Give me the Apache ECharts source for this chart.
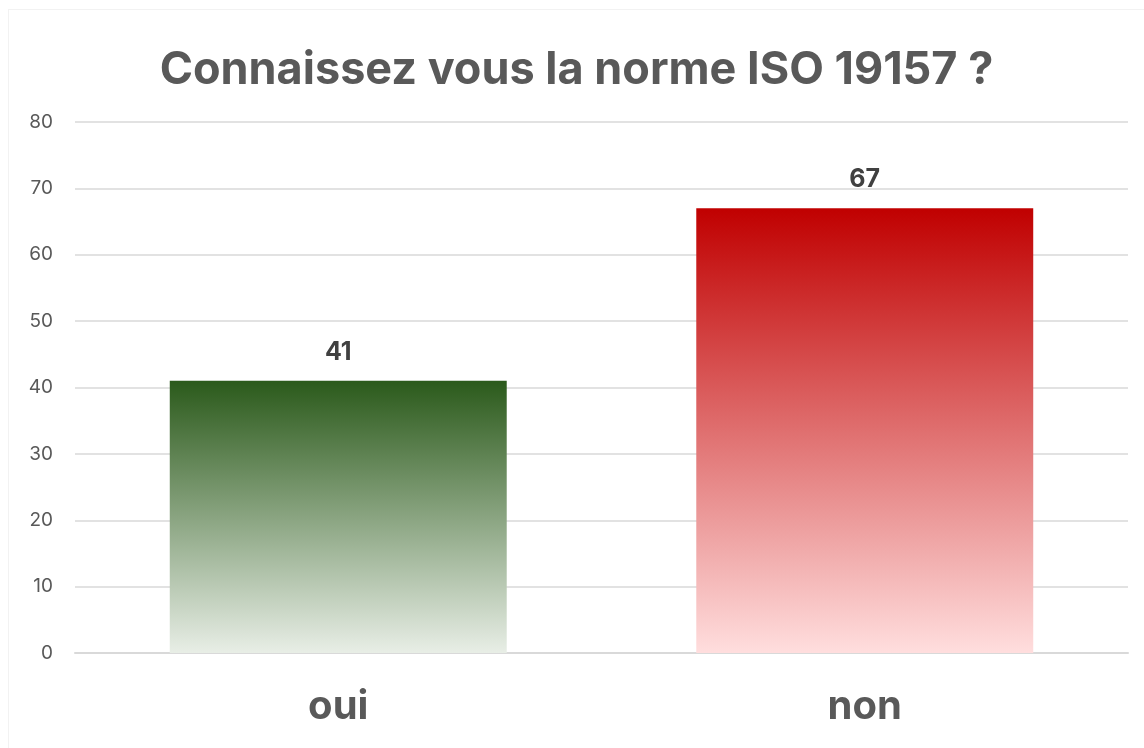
<!DOCTYPE html>
<html>
<head>
<meta charset="utf-8">
<script src="https://cdn.jsdelivr.net/npm/echarts@6/dist/echarts.min.js"></script>
<style>
  html, body { margin: 0; padding: 0; background: #fff; }
  #chart { position: absolute; left: 8px; top: 9px; width: 1136px; height: 739px;
           border-left: 1px solid #f2f2f2; border-top: 1px solid #f2f2f2; box-sizing: border-box; }
</style>
</head>
<body>
<div id="chart"></div>
<script>
// valeurs
const categories = ['oui', 'non'];
const values = [41, 67];
const yTicks = { min: 0, max: 80, interval: 10 };

const gradients = [
  ['#2b5a1b', '#e8eee6'],
  ['#c00000', '#ffdede']
];

const chart = echarts.init(document.getElementById('chart'));

chart.setOption({
  animation: false,
  textStyle: { fontFamily: 'Inter, "Noto Sans", sans-serif' },
  title: {
    text: 'Connaissez vous la norme ISO 19157 ?',
    left: 'center',
    top: 33,
    textStyle: { fontSize: 45, fontWeight: 'bold', color: '#595959' }
  },
  grid: { left: 66, right: 16, top: 112, bottom: 95 },
  xAxis: {
    type: 'category',
    data: categories,
    axisLine: { lineStyle: { color: '#d9d9d9', width: 2 } },
    axisTick: { show: false },
    axisLabel: { fontSize: 40, fontWeight: 'bold', color: '#595959', margin: 34 }
  },
  yAxis: {
    type: 'value',
    min: yTicks.min,
    max: yTicks.max,
    interval: yTicks.interval,
    axisLine: { show: false },
    axisTick: { show: false },
    axisLabel: { fontSize: 19, color: '#595959', margin: 22 },
    splitLine: { lineStyle: { color: '#d9d9d9', width: 1.5 } }
  },
  series: [{
    type: 'bar',
    barWidth: '64%',
    data: values.map((v, i) => ({
      value: v,
      itemStyle: {
        color: new echarts.graphic.LinearGradient(0, 0, 0, 1, [
          { offset: 0, color: gradients[i][0] },
          { offset: 1, color: gradients[i][1] }
        ])
      }
    })),
    label: {
      show: true,
      position: 'top',
      distance: 16,
      fontSize: 25,
      fontWeight: 'bold',
      color: '#404040'
    }
  }]
});
</script>
</body>
</html>
